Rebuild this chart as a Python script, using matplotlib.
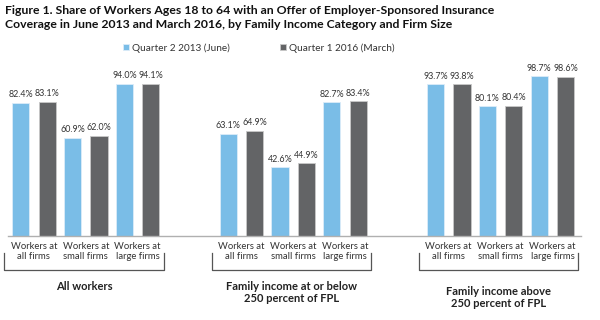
import matplotlib.pyplot as plt
import matplotlib.transforms as mtransforms
import numpy as np

plt.rcParams['font.family'] = ['Lato', 'DejaVu Sans']

firm_labels = ["Workers at\nall firms", "Workers at\nsmall firms", "Workers at\nlarge firms"]
groups = ["All workers", "Family income at or below\n250 percent of FPL",
          "Family income above\n250 percent of FPL"]
q2_2013 = [82.4, 60.9, 94.0, 63.1, 42.6, 82.7, 93.7, 80.1, 98.7]
q1_2016 = [83.1, 62.0, 94.1, 64.9, 44.9, 83.4, 93.8, 80.4, 98.6]
series = ["Quarter 2 2013 (June)", "Quarter 1 2016 (March)"]

blue = "#7abde7"
grey = "#636466"
text_c = "#333333"

fig = plt.figure(figsize=(6, 3.2), dpi=100)
ax = fig.add_axes([0.0133, 0.2625, 0.955, 0.519])

# positions: 3 pairs per group, one empty slot between groups
x = np.array([g * 4 + i for g in range(3) for i in range(3)], dtype=float)
w = 0.33
off = 0.255

b1 = ax.bar(x - off, q2_2013, w, color=blue, edgecolor="#dcecf8", linewidth=0.6, label=series[0])
b2 = ax.bar(x + off, q1_2016, w, color=grey, edgecolor="#c8c8c8", linewidth=0.6, label=series[1])

for bars in (b1, b2):
    for r in bars:
        ax.text(r.get_x() + r.get_width() / 2, r.get_height() + 2.2, f"{r.get_height():.1f}%",
                ha="center", va="bottom", fontsize=6.4, color=text_c)

ax.set_xlim(-0.5, 10.55)
ax.set_ylim(0, 102.7)
for s in ["top", "right", "left"]:
    ax.spines[s].set_visible(False)
ax.spines["bottom"].set_color("#b0b0b0")
ax.spines["bottom"].set_linewidth(1.0)
ax.set_yticks([])
ax.set_xticks(x)
ax.set_xticklabels(firm_labels * 3, fontsize=6.8, color=text_c, linespacing=1.25)
ax.tick_params(axis="x", length=0, pad=4)

# brackets and group names
trans = mtransforms.blended_transform_factory(ax.transData, ax.transAxes)
for g, name in enumerate(groups):
    x0 = x[g * 3] - 0.57
    x1 = x[g * 3 + 2] + 0.5
    ax.plot([x0, x0, x1, x1], [-0.10, -0.205, -0.205, -0.10], transform=trans,
            color="#555555", linewidth=0.9, clip_on=False)
    ytxt = -0.27 if g < 2 else -0.30
    ax.text((x0 + x1) / 2, ytxt, name, transform=trans, ha="center", va="top",
            fontsize=8, fontweight="bold", color="#222222", linespacing=1.15)

leg = fig.legend(handles=[b1, b2], labels=series, loc="center", bbox_to_anchor=(0.432, 0.85),
                 ncol=2, frameon=False, fontsize=7.2, handlelength=0.6, handleheight=0.6,
                 columnspacing=5.0, handletextpad=0.3)
for t in leg.get_texts():
    t.set_color(text_c)

fig.text(0.008, 0.985, "Figure 1. Share of Workers Ages 18 to 64 with an Offer of Employer-Sponsored Insurance\n"
         "Coverage in June 2013 and March 2016, by Family Income Category and Firm Size",
         ha="left", va="top", fontsize=8.8, fontweight="bold", color="#111111", linespacing=1.3)

fig.savefig("out.png", dpi=100)
